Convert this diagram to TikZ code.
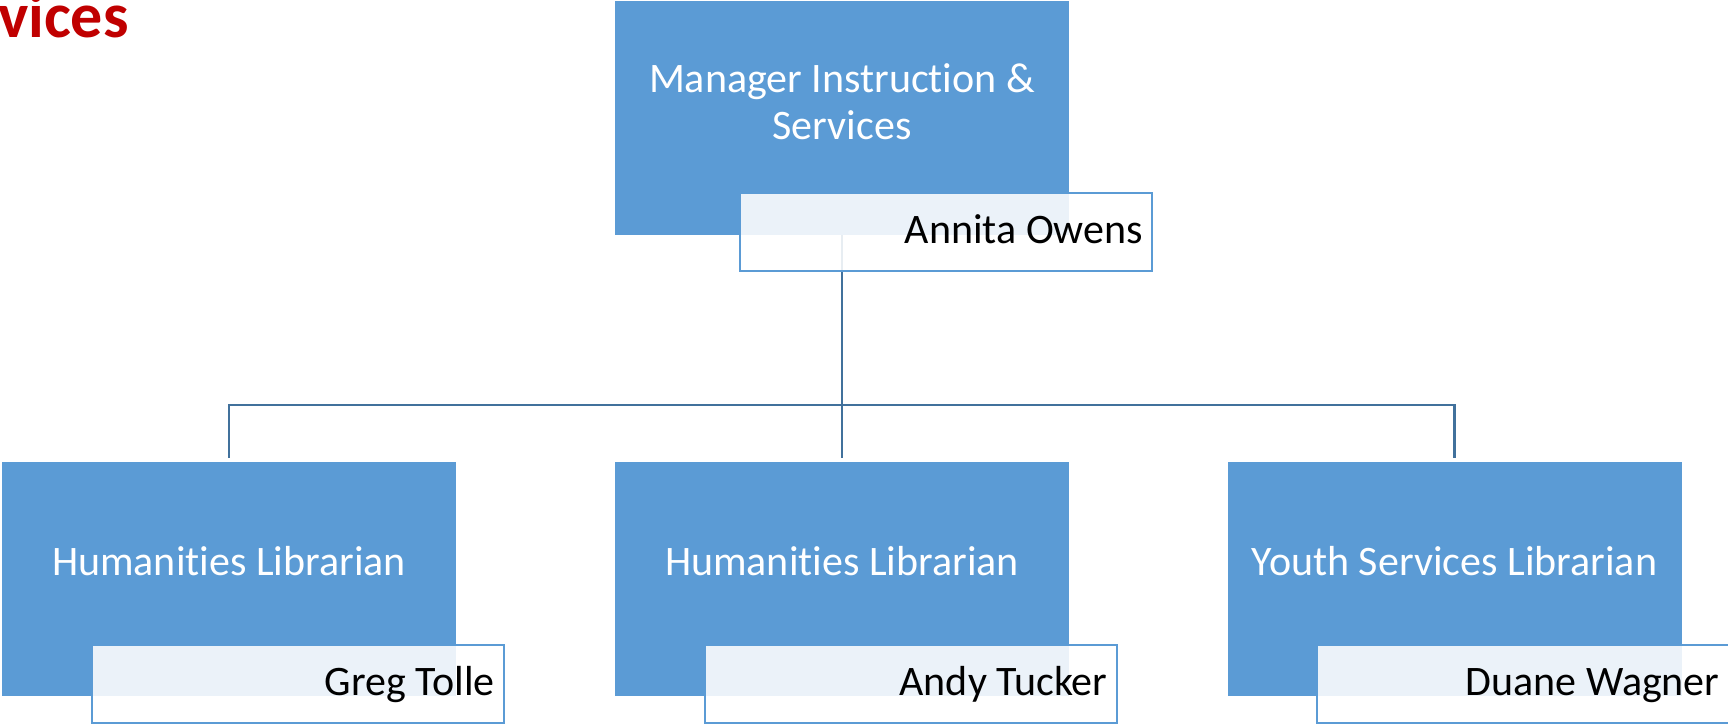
\documentclass[tikz,border=0pt]{standalone}
\usepackage{fontspec}
\setmainfont{Carlito}[Ligatures=NoCommon]
\usepackage{xcolor}
\usepackage{tikz}
\definecolor{boxblue}{HTML}{5B9BD5}
\definecolor{lineblue}{HTML}{41719C}
\definecolor{titlered}{HTML}{C00000}
\tikzset{rolebox/.style={rectangle,fill=boxblue,text=white,minimum width=227pt,minimum height=117pt,inner sep=0pt,align=center,font=\fontsize{21}{23.35}\selectfont}}
\tikzset{namebox/.style={rectangle,draw=boxblue,line width=1pt,fill=white,fill opacity=0.88,text opacity=1,text width=197pt,align=flush right,inner xsep=4.5pt,inner ysep=0pt,minimum height=39pt,text height=13.5pt,text depth=2pt,font=\fontsize{21}{25}\selectfont}}
\tikzset{link/.style={draw=lineblue,line width=1.2pt}}

\begin{document}
\begin{tikzpicture}[x=0.5pt,y=-0.5pt]
        \useasboundingbox (0,0) rectangle (1728,724);
        \node[anchor=base east,inner sep=0pt,text=titlered,font=\fontsize{32}{38}\selectfont\bfseries] (title) at (129,37) {vices};

        \node[rolebox,text height=38pt,text depth=16.7pt] (mgr) at (842,118) {Manager Instruction \&\\Services};
        \node[rolebox,text height=14pt,text depth=17.5pt] (lib1) at (229,578.75) {Humanities Librarian};
        \node[rolebox,text height=14pt,text depth=17.5pt] (lib2) at (842,578.75) {Humanities Librarian};
        \node[rolebox,text height=14pt,text depth=17.5pt] (ysl) at (1454.5,578.75) {Youth Services Librarian};

        \coordinate (bus) at (842,405);
        \draw [link] (mgr) to [] (bus);
        \draw [link,shorten >=1.5pt] (bus) -| (lib1);
        \draw [link,shorten >=1.5pt] (bus) to [] (lib2);
        \draw [link,shorten >=1.5pt] (bus) -| (ysl);

        \node[namebox] (mgrname) at (946,231.5) {Annita Owens};
        \node[namebox] (lib1name) at (297.5,683.5) {Greg Tolle};
        \node[namebox] (lib2name) at (910.5,683.5) {Andy Tucker};
        \node[namebox] (yslname) at (1522.5,683.5) {Duane Wagner};

    \end{tikzpicture}
\end{document}
